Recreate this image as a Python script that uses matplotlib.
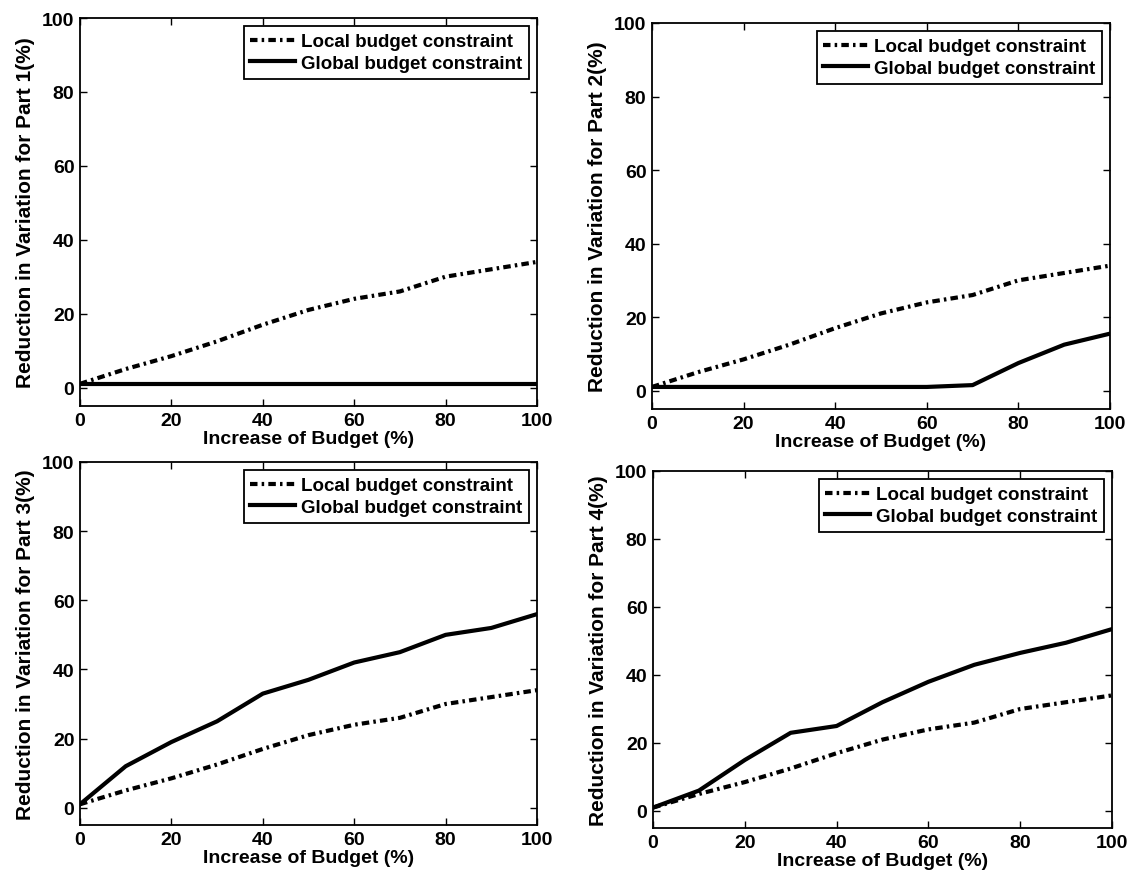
import matplotlib
matplotlib.use("Agg")
import matplotlib.pyplot as plt

plt.rcParams['font.family'] = ['Liberation Sans', 'DejaVu Sans']
plt.rcParams['font.weight'] = 'bold'

budget = [0, 10, 20, 30, 40, 50, 60, 70, 80, 90, 100]
local = [1, 5, 8.5, 12.5, 17, 21, 24, 26, 30, 32, 34]

global1_x = [0, 10, 20, 30, 40, 50, 60, 70, 80, 90, 100]
global1 = [1, 1, 1, 1, 1, 1, 1, 1, 1, 1, 1]

global2_x = [0, 10, 20, 30, 40, 50, 60, 70, 80, 90, 100]
global2 = [1, 1, 1, 1, 1, 1, 1, 1.5, 7.5, 12.5, 15.5]

global3_x = [0, 5, 10, 20, 30, 40, 50, 60, 70, 80, 90, 100]
global3 = [1, 6.5, 12, 19, 25, 33, 37, 42, 45, 50, 52, 56]

global4_x = [0, 10, 20, 30, 40, 50, 60, 70, 80, 90, 100]
global4 = [1, 6, 15, 23, 25, 32, 38, 43, 46.5, 49.5, 53.5]

parts = [
    ("Reduction in Variation for Part 1(%)", global1_x, global1),
    ("Reduction in Variation for Part 2(%)", global2_x, global2),
    ("Reduction in Variation for Part 3(%)", global3_x, global3),
    ("Reduction in Variation for Part 4(%)", global4_x, global4),
]

W, H = 1142, 878
fig = plt.figure(figsize=(W / 100, H / 100), dpi=100)

# axes boxes in pixels: left, top, right, bottom
boxes = [
    (80, 19, 537, 407),
    (652, 24, 1110, 410),
    (80, 463, 537, 826),
    (653, 472, 1112, 829),
]

for (ylabel, gx, gy), (l, t, r, b) in zip(parts, boxes):
    ax = fig.add_axes([l / W, 1 - b / H, (r - l) / W, (b - t) / H])
    ax.plot(budget, local, color='black', lw=3, linestyle=(0, (1.8, 1.0, 0.6, 1.0)),
            label='Local budget constraint')
    ax.plot(gx, gy, color='black', lw=3, linestyle='-', label='Global budget constraint')
    ax.set_xlim(0, 100)
    ax.set_ylim(-5, 100)
    ax.set_xticks([0, 20, 40, 60, 80, 100])
    ax.set_yticks([0, 20, 40, 60, 80, 100])
    ax.tick_params(direction='in', top=True, right=True, labelsize=14, length=5, width=1, pad=4)
    for s in ax.spines.values():
        s.set_linewidth(1.3)
    ax.set_xlabel('Increase of Budget (%)', fontsize=14, fontweight='bold', labelpad=1)
    ax.set_ylabel(ylabel, fontsize=15, fontweight='bold', labelpad=5)
    leg = ax.legend(loc='upper right', fontsize=13.5, frameon=True, fancybox=False,
                    edgecolor='black', framealpha=1, handlelength=2.4,
                    borderaxespad=0.45, labelspacing=0.25, handletextpad=0.3,
                    borderpad=0.35)
    leg.get_frame().set_linewidth(1.3)

fig.savefig('out.png', dpi=100)
